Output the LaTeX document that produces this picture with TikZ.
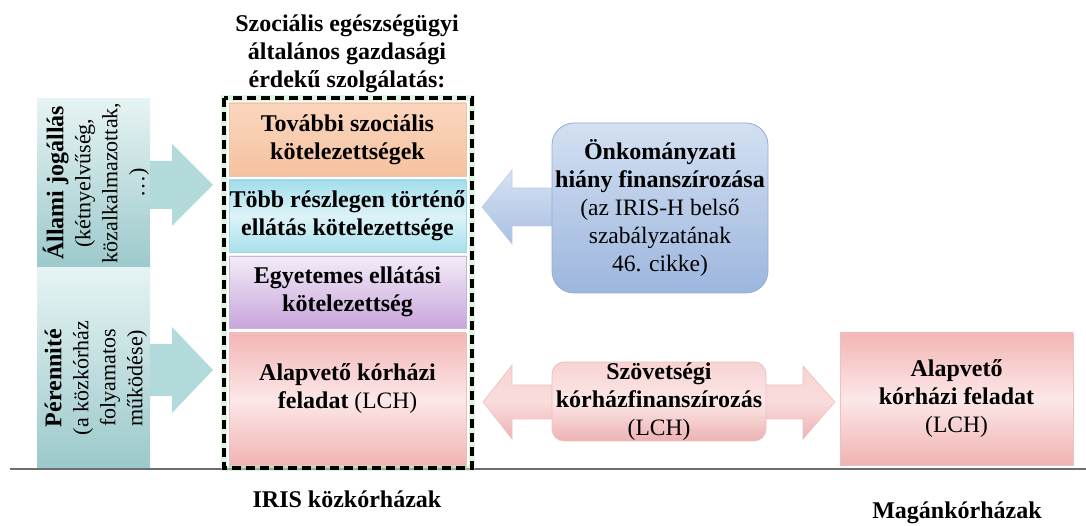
\documentclass[tikz,border=0pt]{standalone}
\usepackage{fontspec}
\setmainfont{Liberation Serif}
\newcommand\hb[1]{{\bfseries\fontsize{24}{28.5}\selectfont #1}}
\begin{document}
\begin{tikzpicture}[x=1pt,y=1pt,
  txt/.style={align=center,inner sep=0pt,font=\fontsize{23.5}{28}\selectfont},
  rtxt/.style={align=center,inner sep=0pt,rotate=90,font=\fontsize{22}{27}\selectfont},
  boxbase/.style={draw,line width=0.8pt,inner sep=0pt,align=center,font=\fontsize{23.5}{28}\selectfont},
  tealpanel/.style={boxbase,draw=none,top color=tealL,bottom color=tealD,minimum width=113pt},
  orangebox/.style={boxbase,draw=orangeE,top color=orangeT,bottom color=orangeB},
  cyanbox/.style={boxbase,draw=cyanE,top color=cyanT,bottom color=cyanB,middle color=cyanM},
  purplebox/.style={boxbase,draw=purpleE,top color=purpleT,bottom color=purpleB},
  pinkbox/.style={boxbase,draw=pinkE,top color=pinkT,bottom color=pinkB,middle color=pinkM},
  bluebox/.style={boxbase,draw=blueE,rounded corners=22pt,top color=blueT,bottom color=blueB},
]
\definecolor{tealL}{HTML}{E6F3F3}
\definecolor{tealD}{HTML}{9CC9CB}
\definecolor{tealA}{HTML}{B3DADB}
\definecolor{orangeT}{HTML}{FAD6BE}
\definecolor{orangeB}{HTML}{F5C29F}
\definecolor{orangeE}{HTML}{F0C4A4}
\definecolor{cyanT}{HTML}{A2DDEB}
\definecolor{cyanM}{HTML}{DDF3F8}
\definecolor{cyanB}{HTML}{A8E0EC}
\definecolor{cyanE}{HTML}{9ED8E6}
\definecolor{purpleT}{HTML}{F3ECF8}
\definecolor{purpleB}{HTML}{C8A5DB}
\definecolor{purpleE}{HTML}{C6B6D6}
\definecolor{pinkT}{HTML}{F3B6B6}
\definecolor{pinkM}{HTML}{FCE7E7}
\definecolor{pinkB}{HTML}{F1B2B2}
\definecolor{pinkE}{HTML}{EFC0C0}
\definecolor{pinkAT}{HTML}{F7D3D3}
\definecolor{pinkAM}{HTML}{FADCDC}
\definecolor{pinkAB}{HTML}{EDB2B3}
\definecolor{blueT}{HTML}{D3E0F1}
\definecolor{blueB}{HTML}{9DB6DE}
\definecolor{blueE}{HTML}{93ACD4}
\definecolor{blueAT}{HTML}{D6E2F2}
\definecolor{blueAB}{HTML}{A9C0E3}
\definecolor{lineC}{HTML}{6E6E6E}

\useasboundingbox (0,0) rectangle (1086,526);

% ground line
\coordinate (gl) at (10,57);
\coordinate (gr) at (1086,57);
\draw[lineC,line width=2pt] (gl) -- (gr);

% left teal panels
\node[tealpanel,minimum height=169pt] (pan1) at (93.5,342.5) {};
\node[tealpanel,minimum height=200pt] (pan2) at (93.5,158) {};
\node[rtxt] (pan1t) at (96,343) {\hb{Állami jogállás}\\(kétnyelvűség,\\közalkalmazottak,\\…)};
\node[rtxt] (pan2t) at (96,148) {\hb{Pérennité}\\(a közkórház\\folyamatos\\működése)};

% teal arrows
\fill[tealA] (150,365) -- (172,365) -- (172,382) -- (213,341) -- (172,300) -- (172,317) -- (150,317) -- cycle;
\fill[tealA] (150,182) -- (172,182) -- (172,199) -- (213,156) -- (172,113) -- (172,130) -- (150,130) -- cycle;

% title
\node[txt] (title) at (347,472) {\hb{Szociális egészségügyi}\\\hb{általános gazdasági}\\\hb{érdekű szolgálatás:}};

% inner boxes
\node[orangebox,minimum width=237pt,minimum height=73pt] (ob) at (347.5,386.5) {\hb{További szociális}\\\hb{kötelezettségek}};
\node[cyanbox,minimum width=237pt,minimum height=72pt] (cb) at (347.5,310) {\hb{Több részlegen történő}\\\hb{ellátás kötelezettsége}};
\node[purplebox,minimum width=237pt,minimum height=72pt] (pb) at (347.5,234) {\hb{Egyetemes ellátási}\\\hb{kötelezettség}};
\node[pinkbox,minimum width=237pt,minimum height=134pt] (kb) at (347.5,126) {};
\node[txt] (kbt) at (347.5,137) {\hb{Alapvető kórházi}\\\hb{feladat} (LCH)};

% dashed frame
\draw[black!30!green!25,line width=6pt,opacity=0.5] (224,428) rectangle (472,58);
\draw[black,line width=4pt,dash pattern=on 9pt off 5pt] (224,428) rectangle (472,58);

% blue arrow and box
\shade[top color=blueAT,bottom color=blueAB,draw=blueE!60,line width=0.6pt] (482,319) -- (512,356) -- (512,338) -- (560,338) -- (560,300) -- (512,300) -- (512,282) -- cycle;
\node[bluebox,minimum width=216pt,minimum height=170pt] (bb) at (660,318) {\hb{Önkományzati}\\\hb{hiány finanszírozása}\\(az IRIS-H belső\\szabályzatának\\46. cikke)};

% pink double arrow and box
\shade[top color=pinkAT,bottom color=pinkAB,middle color=pinkAM,draw=pinkE,line width=0.6pt] (483,124) -- (512,161) -- (512,141) -- (803,141) -- (803,160) -- (835,124) -- (803,87) -- (803,107) -- (512,107) -- (512,87) -- cycle;
\node[boxbase,draw=pinkE,rounded corners=12pt,top color=pinkAT,bottom color=pinkAB,middle color=pinkM,minimum width=214pt,minimum height=79pt] (fb) at (659,124.5) {\hb{Szövetségi}\\\hb{kórházfinanszírozás}\\(LCH)};

% right pink box
\node[pinkbox,minimum width=233pt,minimum height=132pt] (rb) at (956.5,127) {\hb{Alapvető}\\\hb{kórházi feladat}\\(LCH)};

% bottom labels
\node[txt] (iris) at (347,27) {\hb{IRIS közkórházak}};
\node[txt] (magan) at (957,13) {\hb{Magánkórházak}};
\end{tikzpicture}
\end{document}
